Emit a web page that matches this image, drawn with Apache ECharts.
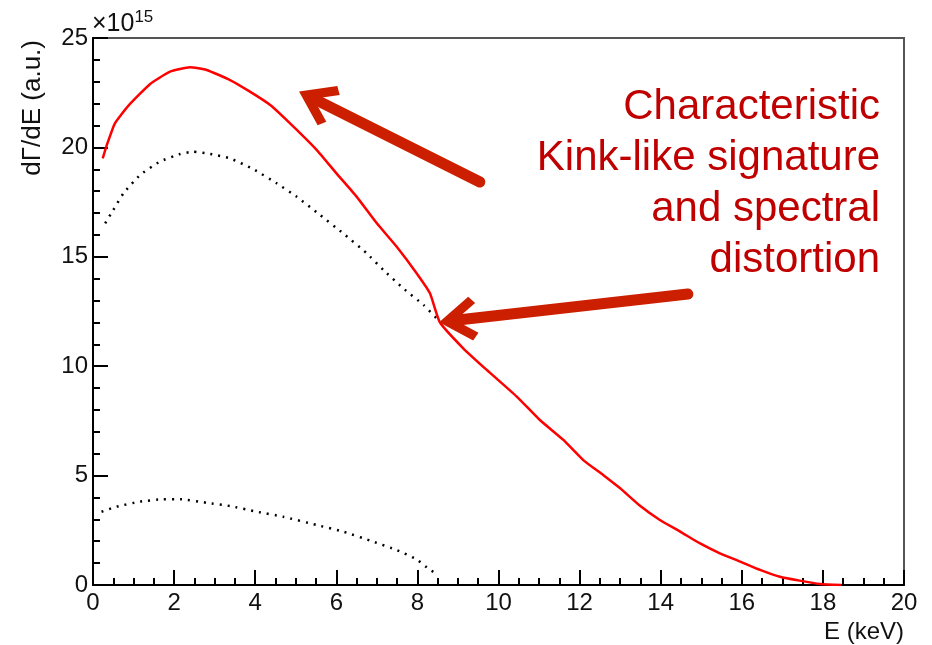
<!DOCTYPE html>
<html>
<head>
<meta charset="utf-8">
<script src="https://cdn.jsdelivr.net/npm/echarts@6/dist/echarts.min.js"></script>
<style>
  html, body { margin: 0; padding: 0; background: #fff; }
  #chart { width: 932px; height: 645px; }
</style>
</head>
<body>
<div id="chart"></div>
<script>
// values in units of 1e15, energies in keV
const totalE = [0.24, 0.34, 0.54, 0.87, 1.41, 1.90, 2.39, 2.80, 3.38, 3.87, 4.37, 4.86, 5.52, 6.01, 6.50, 7.00, 7.49, 7.98, 8.31, 8.55, 9.13, 9.71, 10.45, 11.02, 11.60, 12.09, 12.58, 13.00, 13.49, 13.98, 14.48, 14.97, 15.46, 15.96, 16.45, 16.94, 17.43, 17.93, 18.46]
const totalV = [19.5, 20.1, 21.1, 21.9, 22.9, 23.46, 23.66, 23.54, 23.08, 22.55, 21.94, 21.1, 19.88, 18.8, 17.75, 16.53, 15.46, 14.25, 13.33, 12.02, 10.82, 9.83, 8.61, 7.54, 6.63, 5.71, 5.03, 4.42, 3.62, 2.97, 2.44, 1.9, 1.45, 1.07, 0.69, 0.38, 0.2, 0.05, 0]

const upperE = [0.30, 0.50, 0.75, 1.16, 1.65, 2.15, 2.47, 2.89, 3.38, 3.95, 4.53, 5.02, 5.60, 6.17, 6.75, 7.16, 7.65, 8.15, 8.47, 8.55]
const upperV = [16.53, 17.14, 17.9, 18.74, 19.35, 19.7, 19.8, 19.7, 19.5, 19.01, 18.36, 17.75, 16.91, 16.07, 15.16, 14.4, 13.56, 12.8, 12.19, 12.02]

const lowerE = [0.21, 0.58, 1.16, 1.73, 2.15, 2.80, 3.38, 4.04, 4.69, 5.52, 6.17, 6.91, 7.49, 7.98, 8.31, 8.47]
const lowerV = [3.35, 3.58, 3.81, 3.92, 3.92, 3.76, 3.61, 3.35, 3.12, 2.74, 2.44, 1.98, 1.6, 1.17, 0.69, 0.53]

// annotation arrows: [tail, head] in data coords
const arrowTop = [[9.54, 18.42], [5.50, 22.17]]
const arrowKink = [[14.67, 13.3], [9.00, 12.11]]

const noteLines = ['Characteristic', 'Kink-like signature', 'and spectral', 'distortion']

const zip = (xs, ys) => xs.map((x, i) => [x, ys[i]])

const font = '"Liberation Sans", Arial, Helvetica, sans-serif'
const ink = '#111'
const arrowRed = '#cc1f00'
const chevron = 'path://M50,0 L100,72 L84,86 L50,37 L16,86 L0,72 Z'

const chart = echarts.init(document.getElementById('chart'), null, { renderer: 'canvas' })

const axisCommon = {
  type: 'value',
  axisLine: { show: true, lineStyle: { color: '#000', width: 2 } },
  axisTick: { show: true, inside: true, length: 15, lineStyle: { color: '#000', width: 2 } },
  minorTick: { show: true, length: 7, lineStyle: { color: '#000', width: 2 } },
  splitLine: { show: false },
  axisLabel: { color: ink, fontSize: 24, fontFamily: font }
}

chart.setOption({
  animation: false,
  backgroundColor: '#fff',
  grid: {
    left: 93, right: 28, top: 38, bottom: 60,
    show: true, borderColor: '#555', borderWidth: 2
  },
  xAxis: {
    ...axisCommon,
    min: 0, max: 20, interval: 2,
    minorTick: { ...axisCommon.minorTick, splitNumber: 4 },
    axisLabel: { ...axisCommon.axisLabel, margin: 6 },
    name: 'E (keV)',
    nameLocation: 'end',
    nameGap: 0,
    nameTextStyle: {
      fontSize: 24, fontFamily: font, color: ink,
      align: 'right', verticalAlign: 'top', padding: [35, 0, 0, 0]
    }
  },
  yAxis: {
    ...axisCommon,
    min: 0, max: 25, interval: 5,
    minorTick: { ...axisCommon.minorTick, splitNumber: 5 },
    axisLabel: { ...axisCommon.axisLabel, margin: 5 }
  },
  series: [
    {
      type: 'line', data: zip(upperE, upperV), showSymbol: false, smooth: 0.15,
      lineStyle: { color: '#000', width: 2.5, type: [2, 6] }
    },
    {
      type: 'line', data: zip(lowerE, lowerV), showSymbol: false, smooth: 0.15,
      lineStyle: { color: '#000', width: 2.5, type: [2, 6] }
    },
    {
      type: 'line', data: zip(totalE, totalV), showSymbol: false, smooth: 0.15,
      lineStyle: { color: '#ff0000', width: 2.5 },
      markLine: {
        silent: true,
        symbol: ['none', chevron],
        symbolSize: [44, 38],
        label: { show: false },
        lineStyle: { color: arrowRed, width: 11, type: 'solid', cap: 'round' },
        itemStyle: { color: arrowRed },
        data: [
          [{ coord: arrowTop[0] }, { coord: arrowTop[1] }],
          [{ coord: arrowKink[0] }, { coord: arrowKink[1] }]
        ]
      }
    }
  ],
  graphic: [
    {
      type: 'text', x: 33, y: 40, rotation: Math.PI / 2,
      style: {
        text: 'dΓ/dE (a.u.)', font: '26px ' + font, fill: ink,
        textAlign: 'right', textVerticalAlign: 'middle'
      }
    },
    {
      type: 'text', x: 92, y: 24,
      style: {
        text: '{b|×10}{s|15}',
        fill: ink,
        rich: {
          b: { fontSize: 25, fontFamily: font, fill: ink },
          s: { fontSize: 17, fontFamily: font, fill: ink, verticalAlign: 'bottom', padding: [0, 0, 14, 0] }
        },
        textVerticalAlign: 'middle'
      }
    },
    ...noteLines.map((t, i) => ({
      type: 'text', x: 880, y: 107 + i * 51,
      style: {
        text: t, font: '42px ' + font, fill: '#c00000',
        textAlign: 'right', textVerticalAlign: 'middle'
      }
    }))
  ]
})
</script>
</body>
</html>
